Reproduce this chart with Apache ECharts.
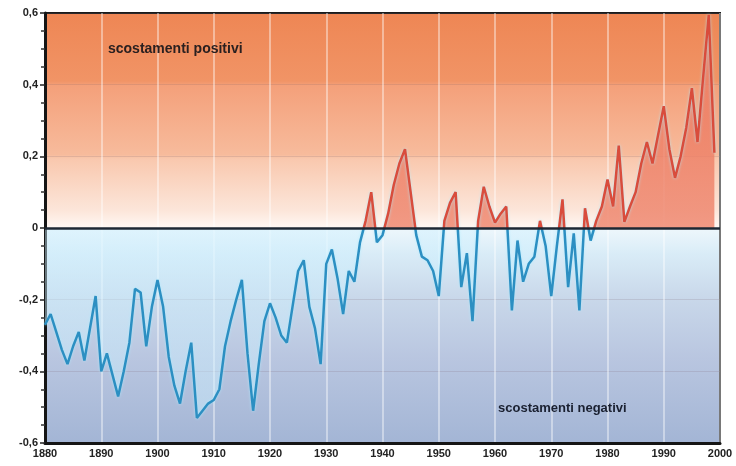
<!DOCTYPE html>
<html>
<head>
<meta charset="utf-8">
<script src="https://cdn.jsdelivr.net/npm/echarts@6/dist/echarts.min.js"></script>
<style>
html,body{margin:0;padding:0;background:#fff;}
#c{width:736px;height:466px;}
</style>
</head>
<body>
<div id="c"></div>
<script>
var years = [];
for (var y = 1880; y <= 1999; y++) years.push(y);
var anomalies = [
 -0.27,-0.24,-0.29,-0.34,-0.38,-0.33,-0.29,-0.37,-0.28,-0.19,
 -0.40,-0.35,-0.41,-0.47,-0.40,-0.32,-0.17,-0.18,-0.33,-0.22,
 -0.145,-0.22,-0.36,-0.44,-0.49,-0.40,-0.32,-0.53,-0.51,-0.49,
 -0.48,-0.45,-0.33,-0.26,-0.20,-0.145,-0.35,-0.51,-0.38,-0.26,
 -0.21,-0.25,-0.30,-0.32,-0.22,-0.12,-0.09,-0.22,-0.28,-0.38,
 -0.10,-0.06,-0.14,-0.24,-0.12,-0.15,-0.04,0.02,0.10,-0.04,
 -0.02,0.04,0.12,0.18,0.22,0.10,-0.02,-0.08,-0.09,-0.12,
 -0.19,0.02,0.07,0.10,-0.165,-0.07,-0.26,0.02,0.115,0.06,
 0.015,0.04,0.06,-0.23,-0.035,-0.15,-0.10,-0.08,0.02,-0.05,
 -0.19,-0.05,0.08,-0.165,-0.015,-0.23,0.055,-0.035,0.02,0.06,
 0.135,0.06,0.23,0.017,0.06,0.10,0.18,0.24,0.18,0.26,
 0.34,0.22,0.14,0.20,0.28,0.39,0.24,0.42,0.595,0.21
];
var yTicks = [-0.6,-0.4,-0.2,0,0.2,0.4,0.6];
var xTicks = [1880,1890,1900,1910,1920,1930,1940,1950,1960,1970,1980,1990,2000];
var labelPos = 'scostamenti positivi';
var labelNeg = 'scostamenti negativi';

var seriesData = years.map(function(yr, i){ return [yr, anomalies[i]]; });

var GT = 13, GB = 23, H = 466;
var pxTop = GT, pxBot = H - GB;

function grad(stops, global){
  var o = {type:'linear', x:0, y:global?pxTop:0, x2:0, y2:global?pxBot:1, colorStops:stops};
  if (global) o.global = true;
  return o;
}

var bg = grad([
  {offset:0, color:'#ee8654'},
  {offset:0.16, color:'#f19466'},
  {offset:0.17, color:'#f4a07a'},
  {offset:0.33, color:'#f7bb9c'},
  {offset:0.34, color:'#f9c8ae'},
  {offset:0.46, color:'#fce6da'},
  {offset:0.5, color:'#fff8f4'},
  {offset:0.5, color:'#eef7fc'},
  {offset:0.56, color:'#d9ecf7'},
  {offset:0.66, color:'#c9d8ea'},
  {offset:0.8, color:'#b9c6e0'},
  {offset:1, color:'#a3b5d5'}
], false);

var f = 0.5; // zero position (axis symmetric)
var lineGrad = grad([
  {offset:0,color:'#d94c3c'},{offset:f,color:'#d94c3c'},
  {offset:f,color:'#2c8fc2'},{offset:1,color:'#2c8fc2'}], true);
var areaGrad = grad([
  {offset:0,color:'rgba(236,120,95,0.8)'},
  {offset:f,color:'rgba(238,130,105,0.8)'},
  {offset:f,color:'rgba(205,240,255,0.45)'},
  {offset:1,color:'rgba(205,240,255,0.45)'}], true);

var chart = echarts.init(document.getElementById('c'));
chart.setOption({
  animation:false,
  grid:{left:45,right:16,top:GT,bottom:GB,show:true,backgroundColor:bg,borderColor:'#1b1b1b',borderWidth:2},
  xAxis:{type:'value',min:1880,max:2000,interval:10,
    axisLine:{onZero:false,lineStyle:{color:'#151515',width:3}},
    axisTick:{show:false},
    axisLabel:{color:'#222',fontSize:11,fontWeight:'bold',margin:5,fontFamily:'Liberation Sans',
      formatter:function(v){ return String(Math.round(v)); }},
    splitLine:{show:true,lineStyle:{color:'rgba(255,255,255,0.55)',width:1.5}}
  },
  yAxis:{type:'value',min:-0.6,max:0.6,interval:0.2,
    axisLine:{show:true,lineStyle:{color:'#151515',width:3}},
    axisTick:{show:true,length:5,lineStyle:{color:'#222',width:1.5}},
    minorTick:{show:true,splitNumber:4,length:4,lineStyle:{color:'#333',width:1.5}},
    axisLabel:{color:'#222',fontSize:11,fontWeight:'bold',margin:7,fontFamily:'Liberation Sans',
      formatter:function(v){ var r=Math.round(v*10)/10; return r===0?'0':String(r).replace('.',','); }},
    splitLine:{show:true,lineStyle:{color:'rgba(120,100,110,0.18)',width:1}}
  },
  graphic:[
    {type:'text',left:108,top:42,z:100,style:{text:labelPos,fill:'#2a2020',fontSize:14,fontWeight:'bold',fontFamily:'Liberation Sans'}},
    {type:'text',left:498,top:402,z:100,style:{text:labelNeg,fill:'#1a2030',fontSize:13,fontWeight:'bold',fontFamily:'Liberation Sans'}}
  ],
  series:[{
    type:'line',data:seriesData,showSymbol:false,symbol:'none',
    lineStyle:{width:2.5,color:lineGrad,shadowBlur:3,shadowColor:'rgba(170,235,255,0.8)'},
    areaStyle:{opacity:1,color:areaGrad},
    markLine:{silent:true,symbol:'none',label:{show:false},
      lineStyle:{color:'#1d2733',width:2.5,type:'solid'},data:[{yAxis:0}]},
    z:3
  }]
});
</script>
</body>
</html>
